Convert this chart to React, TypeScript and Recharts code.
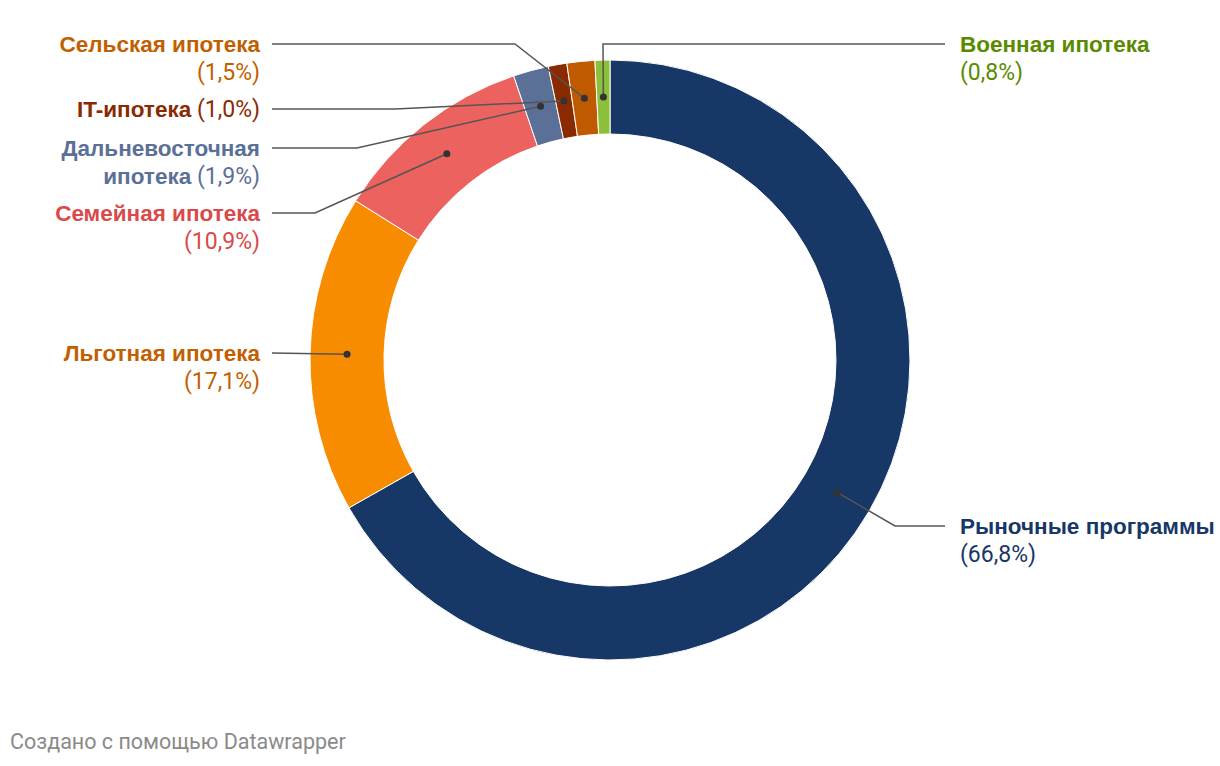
import { Pie, PieChart, Cell } from "recharts"

const names = [
  "Рыночные программы",
  "Льготная ипотека",
  "Семейная ипотека",
  "Дальневосточная\nипотека",
  "IT-ипотека",
  "Сельская ипотека",
  "Военная ипотека",
]
const shares = [66.8, 17.1, 10.9, 1.9, 1.0, 1.5, 0.8]
const sliceColors = ["#173766", "#f78c00", "#ec625f", "#5b7097", "#8a2a00", "#c05a00", "#8cbf3a"]
const textColors = ["#173766", "#c25f00", "#d94a4a", "#5b7097", "#8a2a00", "#c25f00", "#5a8a00"]
// percentage on the same line as the last line of the name?
const inlinePct = [false, false, false, true, true, false, false]

// label placement: side, y of first line, x where the leader line bends
const labelLayout = [
  { side: "right", y: 526, bendX: 895 },
  { side: "left", y: 353, bendX: 272 },
  { side: "left", y: 213, bendX: 315 },
  { side: "left", y: 148, bendX: 357 },
  { side: "left", y: 109, bendX: 395 },
  { side: "left", y: 44, bendX: 515 },
  { side: "right", y: 44, bendX: 603 },
]

const data = names.map((name, i) => ({ name, value: shares[i] }))

const RAD = Math.PI / 180
const NAME_FONT = "'Liberation Sans', Arial, sans-serif"
const PCT_FONT = "Roboto, 'Noto Sans', sans-serif"

const fmt = (v: number) => `(${v.toFixed(1).replace(".", ",")}%)`

function renderLabel(props: any) {
  const { cx, cy, midAngle, innerRadius, outerRadius, index } = props
  const r = (innerRadius + outerRadius) / 2
  const dx = cx + r * Math.cos(-midAngle * RAD)
  const dy = cy + r * Math.sin(-midAngle * RAD)
  const lay = labelLayout[index]
  const left = lay.side === "left"
  const lineX = left ? 272 : 945
  const textX = left ? 260 : 960
  const color = textColors[index]
  const nameLines = names[index].split("\n")
  const pct = fmt(shares[index])
  const rows: { bold: string; plain: string }[] = nameLines.map((l) => ({ bold: l, plain: "" }))
  if (inlinePct[index]) rows[rows.length - 1].plain = " " + pct
  else rows.push({ bold: "", plain: pct })

  return (
    <g key={`lbl-${index}`}>
      <polyline
        points={`${lineX},${lay.y} ${lay.bendX},${lay.y} ${dx},${dy}`}
        fill="none"
        stroke="#555"
        strokeWidth={1.5}
      />
      <circle cx={dx} cy={dy} r={3.5} fill="#333" />
      <text x={textX} y={lay.y} textAnchor={left ? "end" : "start"} fill={color}>
        {rows.map((row, j) => (
          <tspan key={j} x={textX} y={lay.y + 2 + j * 28} dy="0.36em">
            {row.bold && (
              <tspan fontFamily={NAME_FONT} fontSize={22.5} fontWeight={700}>
                {row.bold}
              </tspan>
            )}
            {row.plain && (
              <tspan fontFamily={PCT_FONT} fontSize={23} fontWeight={400}>
                {row.plain}
              </tspan>
            )}
          </tspan>
        ))}
      </text>
    </g>
  )
}

export default function App() {
  return (
    <div style={{ position: "absolute", left: 0, top: 0, width: 1220, height: 766, background: "#fff" }}>
      <PieChart width={1220} height={766} margin={{ top: 0, right: 0, bottom: 0, left: 0 }}>
        <Pie
          data={data}
          dataKey="value"
          nameKey="name"
          cx={610}
          cy={360}
          innerRadius={226}
          outerRadius={300}
          startAngle={90}
          endAngle={-270}
          stroke="#fff"
          strokeWidth={1}
          label={renderLabel}
          labelLine={false}
          isAnimationActive={false}
        >
          {data.map((d, i) => (
            <Cell key={d.name} fill={sliceColors[i]} />
          ))}
        </Pie>
      </PieChart>
      <div
        style={{
          position: "absolute",
          left: 10,
          top: 729,
          fontFamily: PCT_FONT,
          fontSize: 21.5,
          color: "#8a8a8a",
        }}
      >
        Создано с помощью Datawrapper
      </div>
    </div>
  )
}
